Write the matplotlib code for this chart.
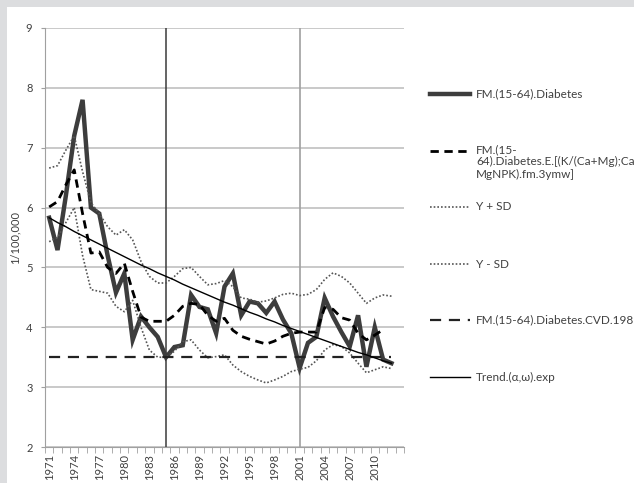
import numpy as np
import matplotlib
matplotlib.use('Agg')
import matplotlib.pyplot as plt
from matplotlib.lines import Line2D

plt.rcParams['font.family'] = ['Lato', 'DejaVu Sans']

years = list(range(1971, 2014))

diabetes = [5.83, 5.29, 6.2, 7.2, 7.8, 6.0, 5.9, 5.2, 4.58, 4.9,
            3.79, 4.18, 4.0, 3.84, 3.5, 3.67, 3.7, 4.54, 4.34, 4.3,
            3.9, 4.68, 4.9, 4.2, 4.43, 4.4, 4.24, 4.43, 4.13, 3.9,
            3.32, 3.74, 3.84, 4.49, 4.18, 3.92, 3.68, 4.2, 3.34, 4.0,
            3.46, 3.4, None]

estimate = [6.01, 6.1, 6.38, 6.63, 5.9, 5.24, 5.26, 5.0, 4.9, 5.07,
            4.6, 4.17, 4.1, 4.1, 4.1, 4.2, 4.35, 4.4, 4.38, 4.2,
            4.1, 4.15, 3.95, 3.85, 3.8, 3.76, 3.72, 3.77, 3.85, 3.9,
            3.92, 3.92, 3.92, 4.33, 4.3, 4.16, 4.12, 3.9, 3.79, 3.87,
            3.96, None, None]

y_plus_sd = [6.66, 6.7, 6.96, 7.2, 6.6, 6.08, 5.9, 5.68, 5.54, 5.63,
             5.46, 5.1, 4.85, 4.74, 4.74, 4.85, 4.98, 5.0, 4.85, 4.71,
             4.73, 4.78, 4.68, 4.49, 4.47, 4.42, 4.44, 4.49, 4.55, 4.57,
             4.53, 4.55, 4.63, 4.8, 4.91, 4.85, 4.74, 4.57, 4.4, 4.49,
             4.54, 4.52, None]

y_minus_sd = [5.43, 5.5, 5.75, 6.0, 5.2, 4.63, 4.6, 4.57, 4.35, 4.26,
              4.45, 4.0, 3.62, 3.5, 3.5, 3.6, 3.76, 3.79, 3.62, 3.49,
              3.51, 3.54, 3.37, 3.26, 3.18, 3.12, 3.07, 3.12, 3.18, 3.26,
              3.3, 3.33, 3.44, 3.62, 3.71, 3.68, 3.57, 3.4, 3.24, 3.29,
              3.34, 3.31, None]

cvd_1985 = [3.5] * 42 + [None]

trend = [5.83, 5.75, 5.68, 5.6, 5.53, 5.46, 5.39, 5.32, 5.25, 5.18,
         5.11, 5.04, 4.98, 4.91, 4.85, 4.79, 4.72, 4.66, 4.6, 4.54,
         4.48, 4.42, 4.37, 4.31, 4.25, 4.2, 4.14, 4.09, 4.03, 3.98,
         3.93, 3.88, 3.83, 3.78, 3.73, 3.68, 3.63, 3.58, 3.54, 3.49,
         3.44, 3.4, None]

labels = ['FM.(15-64).Diabetes',
          'FM.(15-\n64).Diabetes.E.[(K/(Ca+Mg);Ca\nMgNPK).fm.3ymw]',
          'Y + SD', 'Y - SD',
          'FM.(15-64).Diabetes.CVD.1985',
          'Trend.(\u03b1,\u03c9).exp']

def arr(v):
    return np.array([np.nan if a is None else a for a in v], dtype=float)

fig = plt.figure(figsize=(6.34, 4.83), dpi=100)
fig.patch.set_facecolor('#dcdddf')
# white panel
fig.patches.append(plt.Rectangle((7 / 634, 0), 1, 1 - 7 / 483, transform=fig.transFigure,
                                 facecolor='white', edgecolor='none', zorder=-10))

ax = fig.add_axes([45 / 634, 1 - 447 / 483, 359 / 634, 419 / 483])
ax.set_facecolor('white')
x = np.arange(len(years))

for v in range(2, 10):
    ax.axhline(v, color='#c0c0c0', lw=1.2, zorder=1)
ax.axvline(years.index(1985), color='#3a3a3a', lw=1.1, zorder=1)
ax.axvline(years.index(2001), color='#a0a0a0', lw=1.2, zorder=1)

styles = [
    dict(color='#3d3d3d', lw=3.2, ls='-'),
    dict(color='black', lw=2.0, ls=(0, (3, 2))),
    dict(color='#555555', lw=1.2, ls=(0, (1, 1.2))),
    dict(color='#555555', lw=1.2, ls=(0, (1, 1.2))),
    dict(color='#222222', lw=1.6, ls=(0, (5, 3.5))),
    dict(color='black', lw=1.0, ls='-'),
]
series = [diabetes, estimate, y_plus_sd, y_minus_sd, cvd_1985, trend]
order = [2, 3, 4, 1, 0, 5]
for i in order:
    ax.plot(x, arr(series[i]), zorder=3 + i, solid_joinstyle='miter', **styles[i])

ax.set_xlim(-0.5, len(years) - 0.5)
ax.set_ylim(2, 9)
ax.set_yticks(range(2, 10))
ax.tick_params(axis='y', length=3, color='#a0a0a0', labelsize=8, pad=6, labelcolor='#404040')
ax.set_xticks([years.index(y) for y in years if (y - 1971) % 3 == 0 and y <= 2010])
ax.set_xticklabels([str(y) for y in years if (y - 1971) % 3 == 0 and y <= 2010],
                   rotation=90, fontsize=8, color='#404040')
ax.tick_params(axis='x', length=0, pad=5)
ax.set_xticks(np.arange(-0.5, len(years)), minor=True)
ax.tick_params(axis='x', which='minor', length=4, color='#a0a0a0')
for s in ['top', 'right']:
    ax.spines[s].set_visible(False)
ax.spines['left'].set_color('#a0a0a0')
ax.spines['bottom'].set_color('#a0a0a0')
ax.set_ylabel('1/100,000', fontsize=8, color='#404040', labelpad=4)

# legend drawn at the right side
leg_y = [94, 151, 207, 264, 320, 377]
for i, yy in enumerate(leg_y):
    yf = 1 - yy / 483
    fig.add_artist(Line2D([430 / 634, 470 / 634], [yf, yf], transform=fig.transFigure, **styles[i]))
    multi = '\n' in labels[i]
    fig.text(476 / 634, yf + (7 / 483 if multi else 0), labels[i], fontsize=8.5, color='#404040',
             va='top' if multi else 'center', ha='left', linespacing=1.15)

fig.savefig('out.png', dpi=100, facecolor=fig.get_facecolor())
